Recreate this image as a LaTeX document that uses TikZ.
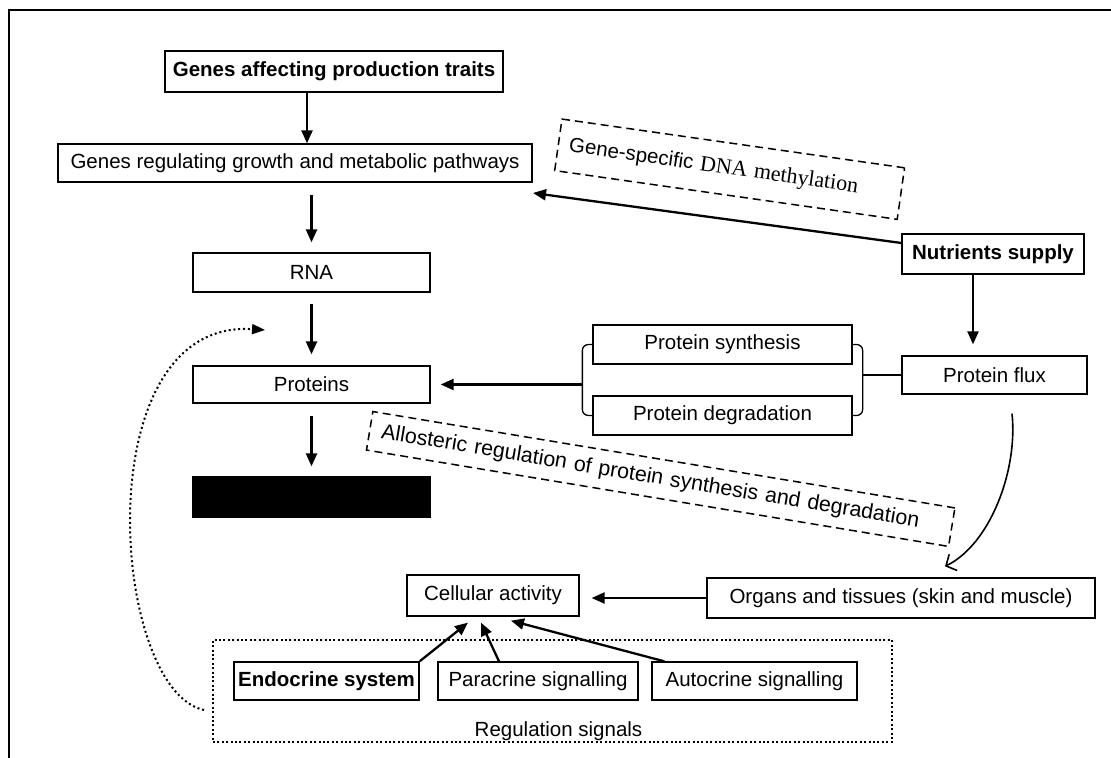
\documentclass[tikz,border=0pt]{standalone}
\usepackage{fontspec}
\setmainfont{Liberation Sans}
\newfontfamily\methfont{Liberation Serif}
\usetikzlibrary{arrows.meta}

\begin{document}
\begin{tikzpicture}[x=0.5pt, y=-0.5pt,
    font=\fontsize{10.25}{12}\selectfont,
    box/.style={draw, line width=0.65pt, inner sep=0pt},
    dashbox/.style={draw, line width=0.75pt, dash pattern=on 4pt off 2.5pt, inner ysep=0pt},
    dotbox/.style={draw, line width=1pt, dash pattern=on 1pt off 1.2pt},
    arr/.style={line width=1.15pt, -{Triangle[length=6.5pt,width=5.5pt]}},
    openarr/.style={line width=0.8pt, -{Straight Barb[length=4pt,width=9pt]}},
    dotarr/.style={line width=1pt, dash pattern=on 1pt off 1.4pt, -{Triangle[length=6.5pt,width=5pt]}}]

        % Frame (only top and left edges show)
        \useasboundingbox (0,0) rectangle (1111,758);
        \draw[line width=0.75pt] (1111,10) -- (9,10) -- (9,758);

        % Main chain, genes down to the black box
        \node[box, minimum width=169pt, minimum height=20.5pt, font=\fontsize{10.25}{12}\selectfont\bfseries]
            (affect) at (334,71.5) {Genes affecting production traits};
        \node[box, minimum width=237pt, minimum height=19pt] (regul) at (295,163)
            {Genes regulating growth and metabolic pathways};
        \node[box, minimum width=118.5pt, minimum height=19.5pt] (rna) at (311.5,272.5) {RNA};
        \node[box, minimum width=118.5pt, minimum height=18.5pt] (prot) at (311.5,384.5) {Proteins};
        \node[box, fill=black, minimum width=118.5pt, minimum height=20pt] (blackbox) at (311.5,497) {};

        \draw[arr] ([xshift=-13.5pt]affect.south) -- ([xshift=6pt]regul.north);
        \draw[arr, shorten <=6pt, shorten >=5pt] (rna.north |- regul.south) -- (rna.north);
        \draw[arr, shorten <=5.5pt, shorten >=5.5pt] (rna) -- (prot);
        \draw[arr, shorten <=6pt, shorten >=5pt] (prot) -- (blackbox);

        % Nutrients side
        \node[box, minimum width=91pt, minimum height=20pt, font=\fontsize{10.25}{12}\selectfont\bfseries]
            (nutr) at (993,254) {Nutrients supply};
        \node[box, minimum width=92.5pt, minimum height=19pt] (flux) at (994.5,375) {Protein flux};
        \node[box, minimum width=129.5pt, minimum height=19.5pt] (synth) at (722.5,344.5) {Protein synthesis};
        \node[box, minimum width=129.5pt, minimum height=19.5pt] (degr) at (722.5,415.5) {Protein degradation};
        \node[box, minimum width=194pt, minimum height=20pt] (organs) at (901,598)
            {Organs and tissues (skin and muscle)};

        \node[dashbox, rotate=-8.1, inner xsep=5.5pt, minimum height=26pt, text width=162pt, align=left]
            (meth) at (729.6,169.2) {Gene-specific {\methfont\fontsize{11}{12}\selectfont DNA methylation}};
        \coordinate (methtip) at (533,193);
        \draw[arr] ([yshift=5.5pt]nutr.west) -- (methtip);

        \draw[arr, shorten >=5.5pt] ([xshift=-10pt]nutr.south) -- ([xshift=-10pt]nutr.south |- flux.north);

        % Brackets round synthesis and degradation
        \draw[line width=0.65pt, rounded corners=3pt] (synth.west) -- ++(-10,0) coordinate (lb) |- (degr.west);
        \draw[line width=0.65pt, rounded corners=3pt] (synth.east) -- ++(10,0) coordinate (rb) |- (degr.east);
        \draw[arr, shorten >=5pt] (lb |- prot) -- (prot.east);
        \draw[line width=0.65pt] (rb |- flux) -- (flux.west);

        \draw[openarr] ([shift={(17.5,19)}]flux.south) .. controls +(6,57) and +(45,-22) ..
            ([shift={(44,-11)}]organs.north);

        % Allosteric regulation
        \node[dashbox, rotate=-9.4, inner xsep=6pt, minimum height=19.5pt, text width=283pt, align=left,
            font=\fontsize{10.7}{12}\selectfont]
            (allo) at (660.7,479) {Allosteric regulation of protein synthesis and degradation};

        % Cellular activity and regulation signals
        \node[box, minimum width=86pt, minimum height=20.5pt] (cell) at (493,595.5) {Cellular activity};
        \draw[arr, shorten >=6pt] (organs.west) -- (organs.west -| cell.east);

        \node[dotbox, minimum width=339.5pt, minimum height=51pt] (regsig) at (552.5,691) {};
        \node[anchor=south, inner sep=1pt] (regtxt) at ([xshift=3pt]regsig.south) {Regulation signals};
        \node[box, line width=0.9pt, minimum width=92.5pt, minimum height=19pt,
            font=\fontsize{10.25}{12}\selectfont\bfseries] (endo) at (326.5,681) {Endocrine system};
        \node[box, minimum width=100pt, minimum height=19pt] (para) at (538,681) {Paracrine signalling};
        \node[box, minimum width=102.5pt, minimum height=19pt] (auto) at (754.5,681) {Autocrine signalling};

        \draw[arr] (endo.north east) -- ([shift={(-25,6)}]cell.south);
        \draw[arr] ([xshift=-19.5pt]para.north) -- ([shift={(-12,6)}]cell.south);
        \draw[arr] ([xshift=6.5pt]auto.north west) -- ([shift={(18,4)}]cell.south);

        % Feedback from the signals
        \coordinate (fbtip) at (265,330);
        \draw[dotarr] ([shift={(-8,19)}]regsig.west) .. controls (110,690) and (85,318) .. (fbtip);
\end{tikzpicture}
\end{document}
